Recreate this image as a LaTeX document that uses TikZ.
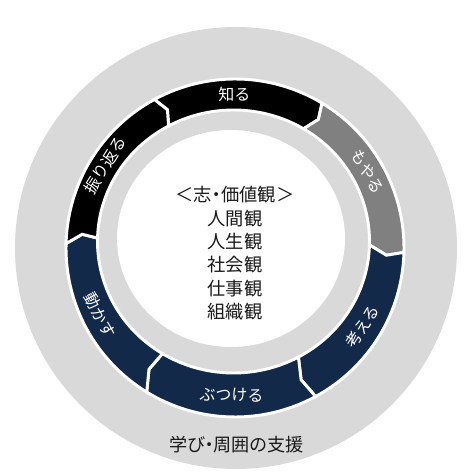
\documentclass[tikz,border=0pt]{standalone}
\usepackage{fontspec}
\setmainfont{Noto Sans CJK JP}
\newfontfamily\jpprop{Noto Sans CJK JP}[RawFeature=+palt]
\usetikzlibrary{calc}
\definecolor{ringgray}{HTML}{D9D9D9}
\definecolor{midgray}{HTML}{808080}
\definecolor{navyblue}{HTML}{12294A}
\definecolor{txtdark}{HTML}{1A1A1A}
\tikzset{
  segline/.style={draw=white, line width=2.2pt, line join=miter},
  seglabel/.style={text=white, font=\fontsize{12}{14}\selectfont, inner sep=0pt},
  coretext/.style={text=txtdark, font=\fontsize{13.7}{16}\selectfont, inner sep=0pt},
  basetext/.style={text=txtdark, font=\jpprop\fontsize{13.6}{15}\selectfont, inner sep=0pt}
}
\newcommand\ringseg[4]{%
  \filldraw[fill=#3, segline] ($(C1)+(#1:169)$) arc[start angle=#1, end angle=#2, radius=169]
    -- ($(Cm)+(#2-2.5:152.5 and 150.25)$) -- ($(C2)+(#2:136 and 131.5)$)
    arc[start angle=#2, end angle=#1, x radius=136, y radius=131.5]
    -- ($(Cm)+(#1-2.5:152.5 and 150.25)$) -- cycle;
  \coordinate (#4) at (0,0);}
\begin{document}
\begin{tikzpicture}[x=0.75pt,y=0.75pt]
\useasboundingbox (0,0) rectangle (468,475);
\coordinate (C0) at (236,227);
\coordinate (C1) at (235,227);
\coordinate (C2) at (233.5,233.5);
\coordinate (Cm) at ($(C1)!0.5!(C2)$);
\coordinate (Cw) at (231,236.5);
% outer support disc
\fill[ringgray] (C0) circle (221);
% cycle segments
\ringseg{118.5}{59}{black}{sShiru}
\ringseg{59}{-1.5}{midgray}{sMoyaru}
\ringseg{-1.5}{-61.5}{navyblue}{sKangaeru}
\ringseg{-61.5}{-121.5}{navyblue}{sButsukeru}
\ringseg{-121.5}{-181.5}{navyblue}{sUgokasu}
\ringseg{178.5}{118.5}{black}{sFurikaeru}
% inner white disc
\fill[white] (Cw) ellipse[x radius=114, y radius=108.5];
% segment labels
\node[seglabel, rotate=0]   (lShiru)     at ($(Cm)+(90:152.5 and 150.25)$) {知る};
\node[seglabel, rotate=-61] (lMoyaru)    at ($(Cm)+(29:152.5 and 150.25)$) {もやる};
\node[seglabel, rotate=57]  (lKangaeru)  at ($(Cm)+(-33:152.5 and 150.25)$) {考える};
\node[seglabel, rotate=-1]  (lButsukeru) at ($(Cm)+(-91:152.5 and 150.25)$) {ぶつける};
\node[seglabel, rotate=-62] (lUgokasu)   at ($(Cm)+(-152:152.5 and 150.25)$) {動かす};
\node[seglabel, rotate=58]  (lFurikaeru) at ($(Cm)+(148:152.5 and 150.25)$) {振り返る};
% centre text
\node[coretext, font=\jpprop\fontsize{13.7}{16}\selectfont] (t0) at (235,280) {＜志・価値観＞};
\node[coretext] (t1) at (235,256.5) {人間観};
\node[coretext] (t2) at (235,233)   {人生観};
\node[coretext] (t3) at (235,210)   {社会観};
\node[coretext] (t4) at (235,186.5) {仕事観};
\node[coretext] (t5) at (235,163)   {組織観};
% bottom text
\node[basetext] (support) at (236.5,30) {学び・周囲の支援};
\end{tikzpicture}
\end{document}
